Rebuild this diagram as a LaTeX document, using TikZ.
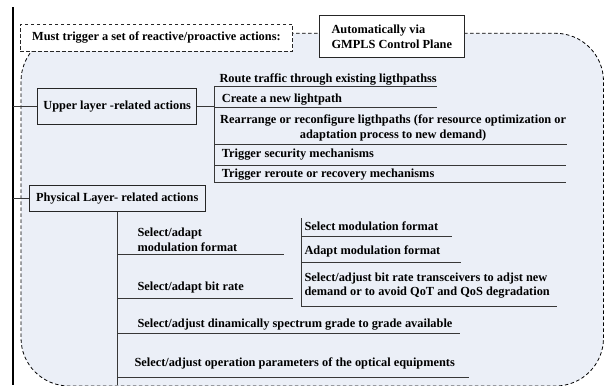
\documentclass[tikz,border=0pt]{standalone}
\usepackage{fontspec}
\setmainfont{Liberation Serif}
\usepackage{xcolor}
\usetikzlibrary{positioning}

\definecolor{areafill}{RGB}{235,239,247}
\definecolor{rulegray}{RGB}{55,55,55}

\begin{document}
\begin{tikzpicture}[
    x=1pt, y=-1pt,
    font=\fontsize{12.35}{14.8}\selectfont\bfseries,
    box/.style={draw=black!85, line width=0.9pt, inner sep=2pt, align=left},
    dbox/.style={box, dash pattern=on 3.5pt off 2.5pt, fill=white},
    leaf/.style={anchor=south west, inner xsep=0pt, inner ysep=0pt, align=left},
    rule/.style={draw=rulegray, line width=0.9pt}
]
\useasboundingbox (0,0) rectangle (604,385);

% shaded area with dashed border
\draw[dash pattern=on 3.5pt off 2.5pt, line width=0.8pt, fill=areafill,
      rounded corners=48pt] (21,33.3) rectangle (603.5,386);

% thick bar on the left
\coordinate (bartop) at (13.3,7.3);
\coordinate (barbot) at (13.3,385);
\draw[line width=2.2pt] (bartop) -- (barbot);

% header boxes
\node[dbox, minimum width=272.7pt, minimum height=26.7pt] (must) at (156.4,37.7)
    {Must trigger a set of reactive/proactive actions:};
\node[box, fill=white, minimum width=145pt, minimum height=42pt] (auto) at (391.8,36.7)
    {Automatically via\\GMPLS Control Plane};

% the two groups
\node[box, minimum width=159pt, minimum height=36pt, align=center] (upper) at (117.2,106.3)
    {Upper layer -related actions};
\node[box, minimum width=175.7pt, minimum height=26pt, align=center] (phys) at (117.2,198.7)
    {Physical Layer- related actions};
\draw[rule] (upper.west) -- (upper.west -| bartop);
\draw[rule] (phys.west) -- (phys.west -| bartop);

% upper layer items
\coordinate (ustem) at (214,86);
\coordinate (ustemend) at (214,182.7);
\draw[rule] (ustem) -- (ustemend);
\draw[rule] (upper.east) -- (upper.east -| ustem);
\node[leaf, minimum height=12pt] (route) at (219.3,86)
    {Route traffic through existing ligthpathss};
\node[leaf, minimum height=15.4pt] (newpath) at (221.7,107.7)
    {Create a new lightpath};
\node[leaf, minimum height=31.4pt, align=center] (rearr) at (220,144)
    {Rearrange or reconfigure ligthpaths (for resource optimization or\\adaptation process to new demand)};
\node[leaf, minimum height=21.4pt] (secur) at (221.7,165.7)
    {Trigger security mechanisms};
\node[leaf, minimum height=15.4pt] (reroute) at (221.7,182.7)
    {Trigger reroute or recovery mechanisms};
\foreach \n/\e in {route/436.7,newpath/436.7,rearr/566.7,secur/565.7,reroute/565.7}
    \draw[rule] (ustem |- \n.south) -- (\n.south -| \e,0);

% physical layer items
\draw[rule] (phys.south) -- (phys.south |- barbot);
\node[leaf, minimum height=28.6pt] (modsel) at (137.3,254)
    {Select/adapt\\modulation format};
\node[leaf, minimum height=21.2pt] (bitsel) at (137.3,298)
    {Select/adapt bit rate};
\node[leaf, minimum height=18pt] (spect) at (137.3,333.3)
    {Select/adjust dinamically spectrum grade to grade available};
\node[leaf, minimum height=28pt] (oper) at (134.3,377.3)
    {Select/adjust operation parameters of the optical equipments};
\foreach \n/\e in {modsel/284,bitsel/292.7,spect/460,oper/469}
    \draw[rule] (phys.south |- \n.south) -- (\n.south -| \e,0);

% modulation / bit rate sub-items
\coordinate (mstem) at (301.7,218.3);
\coordinate (mstemend) at (301.7,306.7);
\draw[rule] (mstem) -- (mstemend);
\node[leaf, minimum height=21.4pt] (selmod) at (304.3,236.7)
    {Select modulation format};
\node[leaf, minimum height=21.2pt] (adamod) at (304.3,262.3)
    {Adapt modulation format};
\node[leaf, minimum height=41.8pt] (trans) at (304.3,306.7)
    {Select/adjust bit rate transceivers to adjst new\\demand or to avoid QoT and QoS degradation};
\foreach \n/\e in {selmod/451.7,adamod/460.7,trans/556.7}
    \draw[rule] (mstem |- \n.south) -- (\n.south -| \e,0);
\end{tikzpicture}
\end{document}
